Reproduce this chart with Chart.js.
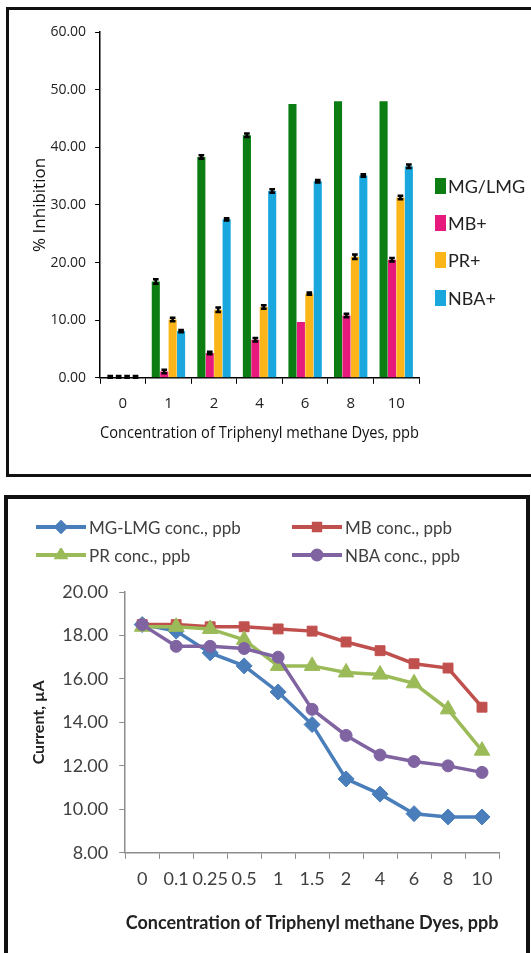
<!DOCTYPE html>
<html>
<head>
<meta charset="utf-8">
<script src="https://cdn.jsdelivr.net/npm/chart.js@4.4.0/dist/chart.umd.min.js"></script>
<style>
    body { margin: 0; background: #fff; width: 531px; height: 953px; overflow: hidden; position: relative; }
    .box { position: absolute; box-sizing: border-box; border: 3px solid #111; }
    #boxTop { left: 6px; top: 7px; width: 530px; height: 470px; }
    #boxBottom { left: 4px; top: 495px; width: 526px; height: 480px; border-width: 4px; }
    .wrap { position: absolute; left: 0; width: 531px; }
    #wrapTop { top: 0; height: 480px; }
    #wrapBottom { top: 480px; height: 473px; }
    #barLegend {
        position: absolute; left: 435px; top: 167px;
        font-family: Lato, sans-serif; font-size: 18px; color: #222;
    }
    #barLegend .item { display: flex; align-items: center; height: 37.3px; }
    #barLegend .swatch { width: 11px; height: 16px; margin-right: 2px; }
    #lineLegend {
        position: absolute; left: 36px; top: 516px;
        display: grid; grid-template-columns: 256px 256px; row-gap: 6px;
        font-family: Lato, sans-serif; font-size: 17px; color: #404040;
    }
    #lineLegend .item { display: flex; align-items: center; height: 22px; }
    #lineLegend canvas { margin-right: 3px; }
</style>
</head>
<body>
<div class="box" id="boxTop"></div>
<div class="box" id="boxBottom"></div>
<div class="wrap" id="wrapTop"><canvas id="inhibitionChart"></canvas></div>
<div class="wrap" id="wrapBottom"><canvas id="currentChart"></canvas></div>
<div id="barLegend"></div>
<div id="lineLegend"></div>

<script>
// ---- bar chart data (% inhibition) ----
const barLabels = ['0', '1', '2', '4', '6', '8', '10'];
const mgLmg = [0.1, 16.7, 38.3, 42.1, 47.5, 48.0, 48.0];
const mbPlus = [0.1, 1.1, 4.3, 6.6, 9.7, 10.8, 20.5];
const prPlus = [0.1, 10.1, 11.8, 12.3, 14.6, 21.0, 31.3];
const nbaPlus = [0.1, 8.1, 27.5, 32.4, 34.1, 35.1, 36.7];
const mgErr = [0.2, 0.4, 0.3, 0.3, 0, 0, 0];
const mbErr = [0.2, 0.3, 0.2, 0.3, 0, 0.3, 0.3];
const prErr = [0.2, 0.3, 0.4, 0.3, 0.2, 0.4, 0.3];
const nbaErr = [0.2, 0.2, 0.2, 0.3, 0.2, 0.2, 0.3];

// ---- line chart data (current, uA) ----
const lineLabels = ['0', '0.1', '0.25', '0.5', '1', '1.5', '2', '4', '6', '8', '10'];
const mgConc = [18.5, 18.2, 17.2, 16.6, 15.4, 13.9, 11.4, 10.7, 9.8, 9.65, 9.65];
const mbConc = [18.5, 18.5, 18.4, 18.4, 18.3, 18.2, 17.7, 17.3, 16.7, 16.5, 14.7];
const prConc = [18.4, 18.4, 18.3, 17.8, 16.6, 16.6, 16.3, 16.2, 15.8, 14.6, 12.7];
const nbaConc = [18.5, 17.5, 17.5, 17.4, 17.0, 14.6, 13.4, 12.5, 12.2, 12.0, 11.7];

// draws the small black error caps on top of each bar
const errorBarPlugin = {
    id: 'errorBars',
    afterDatasetsDraw(chart) {
        const ctx = chart.ctx;
        const yScale = chart.scales.y;
        ctx.save();
        ctx.strokeStyle = '#000';
        ctx.lineWidth = 2.5;
        chart.data.datasets.forEach((ds, i) => {
            const meta = chart.getDatasetMeta(i);
            meta.data.forEach((bar, j) => {
                const err = ds.errors[j];
                if (!err) return;
                const hi = yScale.getPixelForValue(ds.data[j] + err);
                const lo = yScale.getPixelForValue(Math.max(0, ds.data[j] - err));
                const half = bar.width * 0.35;
                ctx.beginPath();
                ctx.moveTo(bar.x - half, hi); ctx.lineTo(bar.x + half, hi);
                ctx.moveTo(bar.x - half, lo); ctx.lineTo(bar.x + half, lo);
                ctx.moveTo(bar.x, hi); ctx.lineTo(bar.x, lo);
                ctx.stroke();
            });
        });
        ctx.restore();
    }
};

const initInhibitionChart = () => {
    const ctx = document.getElementById('inhibitionChart').getContext('2d');
    const font = { family: "'Open Sans', sans-serif" };
    return new Chart(ctx, {
        type: 'bar',
        data: {
            labels: barLabels,
            datasets: [
                { label: 'MG/LMG', data: mgLmg, errors: mgErr, backgroundColor: '#0b7d12' },
                { label: 'MB+', data: mbPlus, errors: mbErr, backgroundColor: '#e8197c' },
                { label: 'PR+', data: prPlus, errors: prErr, backgroundColor: '#fbb519' },
                { label: 'NBA+', data: nbaPlus, errors: nbaErr, backgroundColor: '#19a7dd' }
            ]
        },
        options: {
            responsive: true,
            maintainAspectRatio: false,
            animation: false,
            categoryPercentage: 0.74,
            barPercentage: 0.96,
            layout: { padding: { left: 30, right: 112, top: 32, bottom: 33 } },
            plugins: {
                tooltip: { enabled: false },
                legend: { display: false }
            },
            scales: {
                x: {
                    offset: true,
                    grid: { display: true, drawOnChartArea: false, offset: true, color: '#000', tickLength: 6 },
                    border: { color: '#000', width: 1.5 },
                    ticks: { color: '#222', font: { ...font, size: 15 }, padding: 11 },
                    title: {
                        display: true,
                        text: 'Concentration of Triphenyl methane Dyes, ppb',
                        color: '#111',
                        font: { ...font, size: 16 },
                        padding: { top: 0 }
                    }
                },
                y: {
                    min: 0,
                    max: 60,
                    ticks: { stepSize: 10, color: '#222', font: { ...font, size: 14 }, padding: 9,
                        callback: v => v.toFixed(2) },
                    grid: { drawOnChartArea: false, color: '#000', tickLength: 5 },
                    border: { color: '#000', width: 1.5 },
                    title: {
                        display: true,
                        text: '% Inhibition',
                        color: '#111',
                        font: { ...font, size: 17 },
                        padding: { top: 0, bottom: -9 }
                    }
                }
            }
        },
        plugins: [errorBarPlugin]
    });
};

const initCurrentChart = () => {
    const ctx = document.getElementById('currentChart').getContext('2d');
    const font = { family: 'Lato, sans-serif' };
    const series = [
        { label: 'MG-LMG conc., ppb', data: mgConc, color: '#4a7ebb', pointStyle: 'rectRot', pointRadius: 8, order: 4 },
        { label: 'MB conc., ppb', data: mbConc, color: '#c0504d', pointStyle: 'rect', pointRadius: 7, order: 3 },
        { label: 'PR conc., ppb', data: prConc, color: '#9bbb59', pointStyle: 'triangle', pointRadius: 9, order: 2 },
        { label: 'NBA conc., ppb', data: nbaConc, color: '#8064a2', pointStyle: 'circle', pointRadius: 6, order: 1 }
    ];
    return new Chart(ctx, {
        type: 'line',
        data: {
            labels: lineLabels,
            datasets: series.map(s => ({
                label: s.label,
                data: s.data,
                order: s.order,
                borderColor: s.color,
                backgroundColor: s.color,
                borderWidth: 3.5,
                pointStyle: s.pointStyle,
                pointRadius: s.pointRadius,
                pointBorderWidth: 1,
                tension: 0,
                clip: false
            }))
        },
        options: {
            responsive: true,
            maintainAspectRatio: false,
            animation: false,
            layout: { padding: { left: 29, right: 32, top: 112, bottom: 15 } },
            plugins: {
                legend: { display: false },
                tooltip: { enabled: false }
            },
            scales: {
                x: {
                    offset: true,
                    grid: { display: true, drawOnChartArea: false, offset: true, color: '#8c8c8c', tickLength: 6 },
                    border: { color: '#8c8c8c', width: 1.5 },
                    ticks: { color: '#404040', font: { ...font, size: 18 }, padding: 10, autoSkip: false, maxRotation: 0 },
                    title: {
                        display: true,
                        text: 'Concentration of Triphenyl methane Dyes, ppb',
                        color: '#222',
                        font: { ...font, size: 18, weight: 'bold' },
                        padding: { top: 12 }
                    }
                },
                y: {
                    min: 8,
                    max: 20,
                    ticks: { stepSize: 2, color: '#404040', font: { ...font, size: 18 }, padding: 11,
                        callback: v => v.toFixed(2) },
                    grid: { drawOnChartArea: false, color: '#8c8c8c', tickLength: 6 },
                    border: { color: '#8c8c8c', width: 1.5 },
                    title: {
                        display: true,
                        text: 'Current, µA',
                        color: '#222',
                        font: { ...font, size: 16, weight: 'bold' },
                        padding: { top: 0, bottom: 3 }
                    }
                }
            }
        }
    });
};

// HTML legend for the bar chart: coloured box + label, one per row
const buildBarLegend = (chart) => {
    const box = document.getElementById('barLegend');
    chart.data.datasets.forEach(ds => {
        const item = document.createElement('div');
        item.className = 'item';
        const swatch = document.createElement('span');
        swatch.className = 'swatch';
        swatch.style.background = ds.backgroundColor;
        const text = document.createElement('span');
        text.textContent = ds.label;
        item.appendChild(swatch);
        item.appendChild(text);
        box.appendChild(item);
    });
};

// HTML legend in two columns, line sample with a small marker
const buildLineLegend = (chart) => {
    const box = document.getElementById('lineLegend');
    chart.data.datasets.forEach(ds => {
        const item = document.createElement('div');
        item.className = 'item';
        const icon = document.createElement('canvas');
        icon.width = 50; icon.height = 14;
        const g = icon.getContext('2d');
        g.strokeStyle = ds.borderColor;
        g.lineWidth = 4;
        g.beginPath(); g.moveTo(0, 7); g.lineTo(50, 7); g.stroke();
        g.fillStyle = ds.borderColor;
        if (Chart.helpers && Chart.helpers.drawPoint) {
            Chart.helpers.drawPoint(g, { pointStyle: ds.pointStyle, radius: 4.5, borderWidth: 1 }, 25, 7);
        }
        const text = document.createElement('span');
        text.textContent = ds.label;
        item.appendChild(icon);
        item.appendChild(text);
        box.appendChild(item);
    });
};

document.addEventListener('DOMContentLoaded', () => {
    window.inhibitionChart = initInhibitionChart();
    window.currentChart = initCurrentChart();
    buildBarLegend(window.inhibitionChart);
    buildLineLegend(window.currentChart);
});
</script>
</body>
</html>
